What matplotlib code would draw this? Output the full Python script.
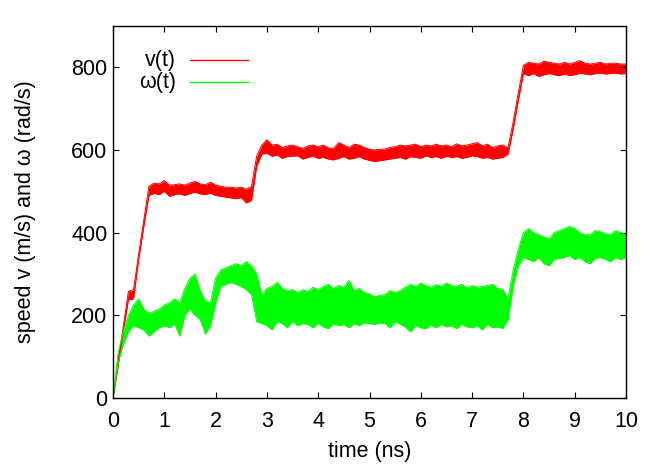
import numpy as np
import matplotlib
matplotlib.use("Agg")
import matplotlib.pyplot as plt

plt.rcParams['font.family'] = ['Liberation Sans', 'DejaVu Sans']

# time axis (ns), 0.1 ns steps
time_ns = [round(0.1 * i, 1) for i in range(101)]

# v(t) envelope (m/s): low / high of the noisy trace
v_low = [0, 78, 160, 238, 240, 335, 415, 490, 495, 492,
         500, 488, 492, 494, 490, 495, 498, 494, 492, 496,
         490, 488, 486, 484, 482, 485, 472, 478, 560, 590,
         592, 585, 588, 580, 584, 585, 586, 578, 582, 585,
         580, 582, 578, 576, 580, 584, 578, 580, 584, 578,
         575, 572, 574, 576, 578, 580, 582, 578, 584, 582,
         580, 586, 582, 584, 580, 585, 582, 584, 580, 582,
         586, 584, 580, 582, 578, 580, 582, 590, 650, 720,
         785, 780, 785, 778, 782, 785, 782, 780, 784, 780,
         782, 786, 784, 782, 785, 786, 784, 785, 786, 784, 785]
v_high = [0, 90, 172, 258, 262, 348, 430, 512, 520, 518,
          526, 515, 516, 518, 515, 520, 524, 518, 516, 522,
          515, 512, 510, 510, 508, 510, 505, 512, 585, 612,
          625, 612, 614, 606, 610, 612, 608, 604, 610, 612,
          608, 612, 605, 604, 618, 612, 606, 614, 612, 606,
          602, 600, 602, 602, 606, 608, 612, 610, 612, 614,
          608, 612, 610, 614, 610, 612, 608, 615, 610, 612,
          615, 618, 610, 614, 606, 610, 612, 605, 668, 738,
          805, 812, 810, 808, 815, 812, 810, 808, 812, 808,
          812, 816, 810, 808, 810, 812, 808, 810, 810, 808, 808]

# omega(t) envelope (rad/s)
w_low = [0, 85, 130, 160, 175, 170, 165, 150, 160, 170,
         175, 170, 180, 150, 200, 215, 200, 190, 155, 175,
         230, 270, 275, 280, 275, 270, 262, 250, 185, 180,
         175, 165, 185, 180, 170, 185, 175, 180, 178, 170,
         180, 172, 168, 180, 175, 178, 170, 180, 175, 182,
         180, 178, 182, 180, 170, 185, 178, 172, 160, 175,
         170, 168, 176, 170, 178, 172, 175, 168, 178, 172,
         170, 175, 165, 178, 170, 172, 168, 190, 270, 320,
         340, 335, 330, 340, 325, 320, 335, 338, 340, 345,
         335, 340, 330, 325, 338, 340, 335, 330, 340, 335, 340]
w_high = [0, 110, 160, 200, 225, 240, 215, 205, 210, 215,
          225, 230, 240, 230, 265, 290, 300, 260, 235, 230,
          290, 310, 315, 320, 325, 320, 330, 320, 300, 250,
          265, 270, 280, 265, 260, 262, 255, 262, 258, 268,
          262, 270, 275, 265, 272, 268, 285, 260, 265, 255,
          252, 245, 248, 250, 260, 255, 260, 268, 275, 270,
          278, 272, 268, 274, 270, 278, 272, 270, 275, 266,
          272, 268, 270, 272, 275, 265, 262, 240, 310, 360,
          400, 410, 400, 395, 390, 385, 400, 405, 410, 415,
          410, 400, 395, 395, 405, 402, 398, 395, 405, 400, 395]

RED = '#ff0000'
GREEN = '#00ff00'
FS = 15.5

fig = plt.figure(figsize=(6.64, 4.65), dpi=100)
ax = fig.add_axes([113 / 664, 67 / 465, 513 / 664, 372 / 465])

ax.fill_between(time_ns, v_low, v_high, color=RED, lw=0)
ax.plot(time_ns, v_low, color=RED, lw=0.7)
ax.plot(time_ns, v_high, color=RED, lw=0.7)
ax.fill_between(time_ns, w_low, w_high, color=GREEN, lw=0)
ax.plot(time_ns, w_low, color=GREEN, lw=0.7)
ax.plot(time_ns, w_high, color=GREEN, lw=0.7)

ax.set_xlim(0, 10)
ax.set_ylim(0, 900)
ax.set_xticks(range(0, 11))
ax.set_yticks([0, 200, 400, 600, 800])
ax.tick_params(direction='in', length=4.5, width=0.8, top=True, right=True,
               labelsize=FS)
ax.tick_params(axis='x', pad=9)
ax.tick_params(axis='y', pad=4)
for s in ax.spines.values():
    s.set_linewidth(1.0)

ax.set_xlabel('time (ns)', fontsize=FS, labelpad=7)
ax.set_ylabel('speed v (m/s) and \u03c9 (rad/s)', fontsize=FS, labelpad=25)

# key (gnuplot style)
ax.text(0.1228, 0.9086, 'v(t)', ha='right', va='center', fontsize=FS,
        transform=ax.transAxes)
ax.plot([0.150, 0.263], [0.9086, 0.9086], color=RED, lw=1.0,
        transform=ax.transAxes)
ax.text(0.1228, 0.849, '\u03c9(t)', ha='right', va='center', fontsize=FS,
        transform=ax.transAxes)
ax.plot([0.150, 0.263], [0.849, 0.849], color=GREEN, lw=1.0,
        transform=ax.transAxes)

fig.savefig('out.png', dpi=100)
